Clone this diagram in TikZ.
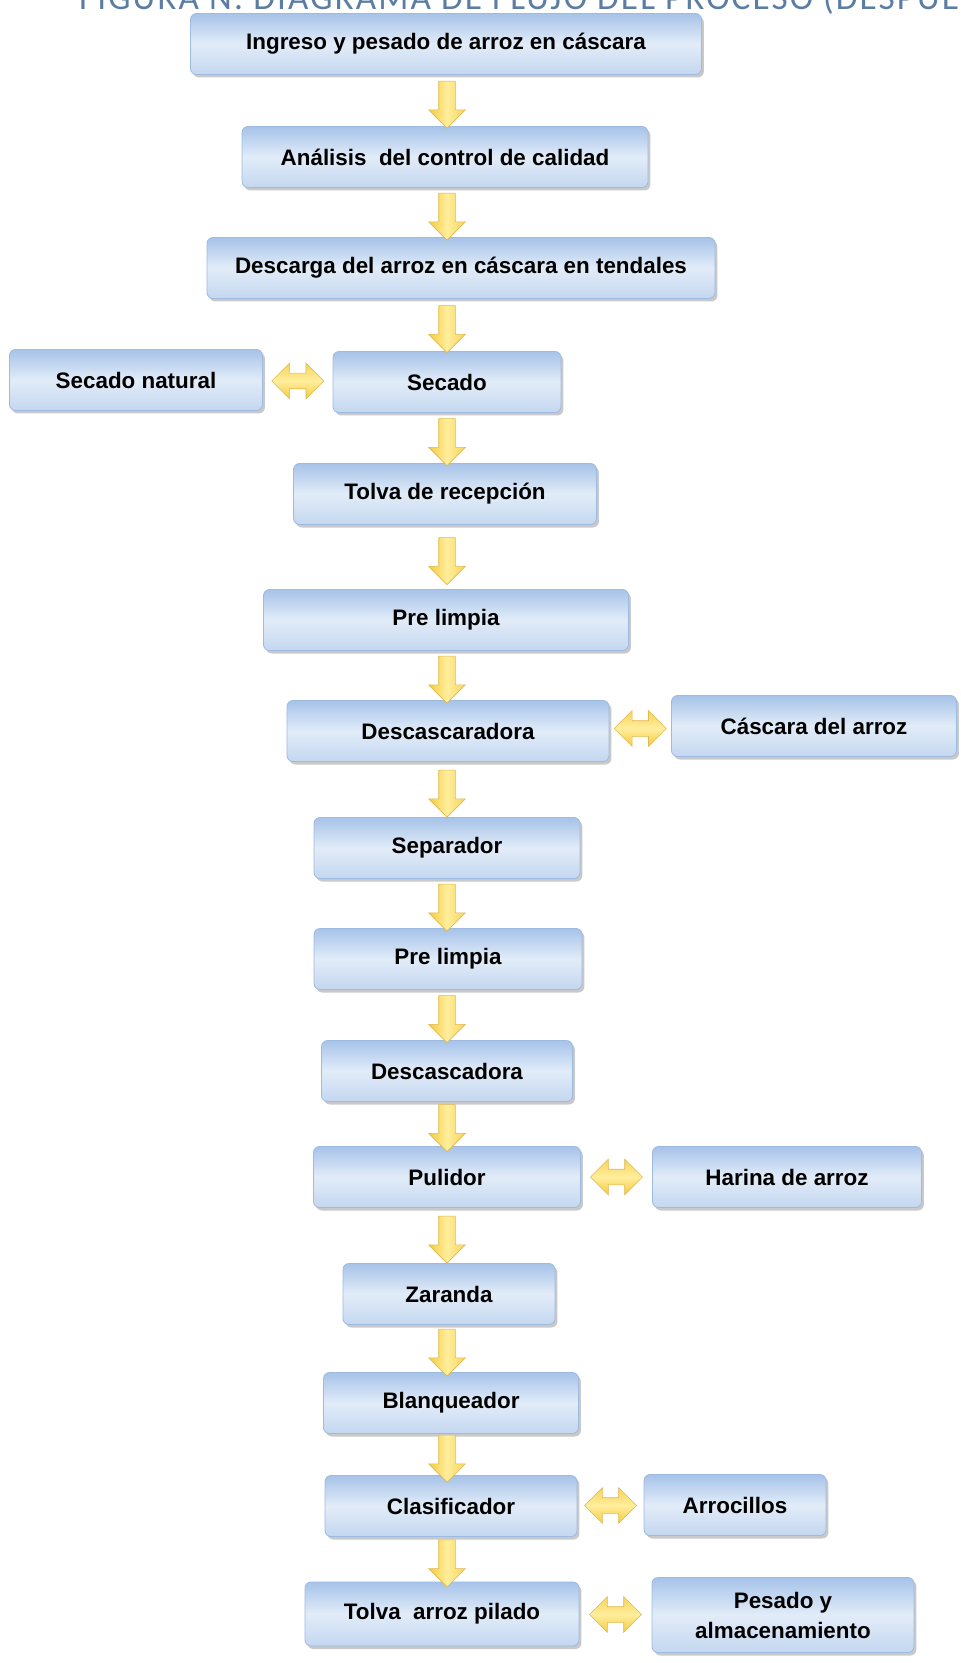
\documentclass[tikz,border=0pt]{standalone}
\usepackage{fontspec}
\setmainfont{Liberation Sans}
\newfontfamily\titlefont[LetterSpace=6]{Carlito}
\usetikzlibrary{shapes.arrows,shadows}

\definecolor{boxtop}{HTML}{A6C3E9}
\definecolor{boxmid}{HTML}{E2ECF8}
\definecolor{boxbot}{HTML}{C3D7F0}
\definecolor{boxline}{HTML}{9DBAE0}
\definecolor{flechaA}{HTML}{F6CB3C}
\definecolor{flechaB}{HTML}{FFEE9E}
\definecolor{flechaC}{HTML}{F8D458}
\definecolor{flechaline}{HTML}{E0B850}
\definecolor{titulo}{HTML}{5B7CA3}

\begin{document}
\begin{tikzpicture}[x=0.5pt,y=-0.5pt,
  caja/.style={draw=boxline, line width=0.4pt, rounded corners=3pt,
    top color=boxtop, bottom color=boxbot, middle color=boxmid,
    minimum height=30.5pt, inner sep=2pt, align=center,
    font=\fontsize{11.2}{15}\selectfont\bfseries,
    drop shadow={shadow xshift=1.2pt, shadow yshift=-1.5pt, opacity=0.35, fill=black!60}},
  flechaV/.style={single arrow, single arrow head extend=5pt,
    minimum width=18pt, minimum height=23.5pt, inner xsep=0pt, inner ysep=4pt,
    draw=flechaline, line width=0.3pt,
    left color=flechaA, right color=flechaC, middle color=flechaB, rotate=-90},
  flechaH/.style={double arrow, double arrow head extend=5pt,
    minimum width=17.5pt, minimum height=26pt, inner xsep=0pt, inner ysep=3.75pt,
    draw=flechaline, line width=0.3pt,
    top color=flechaC, bottom color=flechaA, middle color=flechaB}]
\clip (0,0) rectangle (961,1663);
\fill[white] (0,0) rectangle (961,1663);
\node[anchor=base west, text=titulo, font=\titlefont\fontsize{17.6}{20}\selectfont] (titulo) at (72,10) {FIGURA N: DIAGRAMA DE FLUJO DEL PROCESO (DESPUÉS};
\coordinate (eje) at (447,0);

\node[caja, minimum width=255.5pt] (ingreso) at (446,44) {Ingreso y pesado de arroz en cáscara};
\node[caja, minimum width=203pt] (analisis) at (445,157) {Análisis\ \ del control de calidad};
\node[caja, minimum width=254pt] (descarga) at (461,268) {Descarga del arroz en cáscara en tendales};
\node[caja, minimum width=126.5pt] (secnat) at (136,380) {Secado natural};
\node[caja, minimum width=114pt] (secado) at (447,382) {Secado};
\node[caja, minimum width=151.5pt] (tolva) at (445,494) {Tolva de recepción};
\node[caja, minimum width=182.5pt] (prelimpia) at (446,620) {Pre limpia};
\node[caja, minimum width=161pt] (descascaradora) at (448,731) {Descascaradora};
\node[caja, minimum width=142.5pt] (cascara) at (814,726) {Cáscara del arroz};
\node[caja, minimum width=133pt] (separador) at (447,848) {Separador};
\node[caja, minimum width=134pt] (prelimpiados) at (448,959) {Pre limpia};
\node[caja, minimum width=125.5pt] (descascadora) at (447,1071) {Descascadora};
\node[caja, minimum width=133.5pt] (pulidor) at (447,1177) {Pulidor};
\node[caja, minimum width=134.5pt] (harina) at (787,1177) {Harina de arroz};
\node[caja, minimum width=106pt] (zaranda) at (449,1294) {Zaranda};
\node[caja, minimum width=127.5pt] (blanqueador) at (451,1403) {Blanqueador};
\node[caja, minimum width=126pt] (clasificador) at (451,1506) {Clasificador};
\node[caja, minimum width=91pt] (arrocillos) at (735,1505) {Arrocillos};
\node[caja, minimum width=137pt, minimum height=32pt] (tolvapilado) at (442,1614) {Tolva\ \ arroz pilado};
\node[caja, minimum width=131pt, minimum height=37.5pt] (pesado) at (783,1615) {Pesado y\\almacenamiento};

\path (ingreso.south -| eje) -- (analisis.north -| eje) node[midway, flechaV] {};
\path (analisis.south -| eje) -- (descarga.north -| eje) node[midway, flechaV] {};
\path (descarga.south -| eje) -- (secado.north -| eje) node[midway, flechaV] {};
\path (secado.south -| eje) -- (tolva.north -| eje) node[midway, flechaV] {};
\path (tolva.south -| eje) -- (prelimpia.north -| eje) node[midway, flechaV] {};
\path (prelimpia.south -| eje) -- (descascaradora.north -| eje) node[midway, flechaV] {};
\path (descascaradora.south -| eje) -- (separador.north -| eje) node[midway, flechaV] {};
\path (separador.south -| eje) -- (prelimpiados.north -| eje) node[midway, flechaV] {};
\path (prelimpiados.south -| eje) -- (descascadora.north -| eje) node[midway, flechaV] {};
\path (descascadora.south -| eje) -- (pulidor.north -| eje) node[midway, flechaV] {};
\path (pulidor.south -| eje) -- (zaranda.north -| eje) node[midway, flechaV] {};
\path (zaranda.south -| eje) -- (blanqueador.north -| eje) node[midway, flechaV] {};
\path (blanqueador.south -| eje) -- (clasificador.north -| eje) node[midway, flechaV] {};
\path (clasificador.south -| eje) -- (tolvapilado.north -| eje) node[midway, flechaV] {};

\path (secnat.east) -- (secado.west) node[midway, flechaH] {};
\path (descascaradora.east) -- (cascara.west) node[midway, flechaH] {};
\path (pulidor.east) -- (harina.west) node[midway, flechaH] {};
\path (clasificador.east) -- (arrocillos.west) node[midway, flechaH] {};
\path (tolvapilado.east) -- (pesado.west) node[midway, flechaH] {};
\end{tikzpicture}
\end{document}
